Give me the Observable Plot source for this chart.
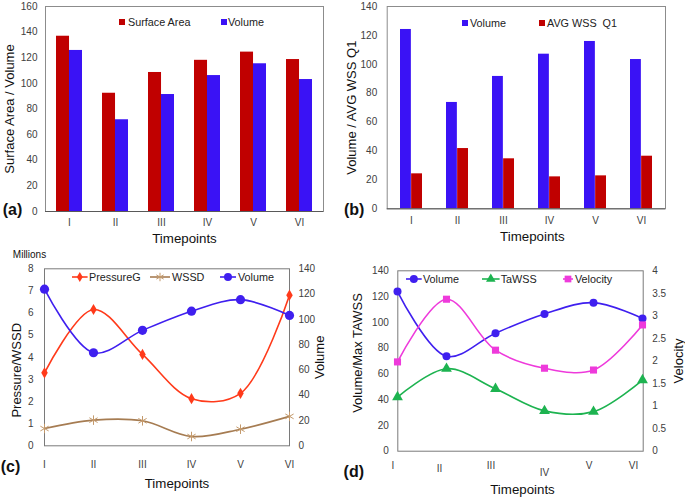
<!DOCTYPE html>
<html><head><meta charset="utf-8">
<script src="https://cdn.jsdelivr.net/npm/d3@7"></script>
<script src="https://cdn.jsdelivr.net/npm/@observablehq/plot@0.6"></script>
<style>
body{margin:0;background:#fff;font-family:"Liberation Sans",Arial,sans-serif;}
#root{position:relative;width:685px;height:499px;overflow:hidden;background:#fff;}
.lg{position:absolute;font-size:10.8px;color:#222;white-space:nowrap;height:14px;line-height:14px;}
.sw{position:absolute;width:6px;height:6px;}
</style></head><body><div id="root"></div>
<script>
// ---------- data ----------
const timepoints = ["I", "II", "III", "IV", "V", "VI"];

// (a) bars
const aSurfaceArea = [136.8, 92.3, 108.5, 118.0, 124.4, 118.6];
const aVolume = [125.7, 71.6, 91.3, 106.1, 115.3, 103.0];
const aTicks = [0, 20, 40, 60, 80, 100, 120, 140, 160];

// (b) bars
const bVolume = [124.1, 73.6, 91.6, 107.0, 115.8, 103.3];
const bAvgWssQ1 = [24.2, 41.7, 34.6, 22.1, 22.8, 36.4];
const bTicks = [0, 20, 40, 60, 80, 100, 120, 140];

// (c) lines (Pressure/WSSD in millions, Volume on right axis)
const cPressureG = [3.30, 6.16, 4.13, 2.13, 2.37, 6.81];
const cWSSD = [0.78, 1.16, 1.13, 0.42, 0.75, 1.33];
const cVolume = [123.9, 73.6, 91.3, 106.5, 115.6, 103.1];
const cLeftTicks = [0, 1, 2, 3, 4, 5, 6, 7, 8];
const cRightTicks = [0, 20, 40, 60, 80, 100, 120, 140];

// (d) lines (Volume & TaWSS left, Velocity right)
const dVolume = [123.9, 73.6, 91.6, 106.5, 115.3, 103.0];
const dTaWSS = [42.0, 64.0, 48.4, 31.3, 30.7, 55.2];
const dVelocity = [1.98, 3.37, 2.24, 1.84, 1.80, 2.80];
const dLeftTicks = [0, 20, 40, 60, 80, 100, 120, 140];
const dRightTicks = [0, 0.5, 1, 1.5, 2, 2.5, 3, 3.5, 4];

// ---------- styles ----------
const RED = "#C00000", BLUE = "#3A12F5";
const C_PRESS = "#FF3A1A", C_WSSD = "#A67C52", C_WSSD_M = "#C49A6C", C_VOL = "#3F1FEF";
const C_TAWSS = "#1DB350", C_VEL = "#EE3ADB";
const FONT = '"Liberation Sans", Arial, sans-serif';
const TICK = "#404040", TITLE = "#111";
const root = document.getElementById("root");
const baseStyle = {fontFamily: FONT, fontSize: "10px", background: "transparent", overflow: "visible", color: TICK};
function place(el, left, top) {
  el.style.position = "absolute"; el.style.left = left + "px"; el.style.top = top + "px";
  el.style.maxWidth = "none";
  root.appendChild(el);
}
const id = d => d;
const T = {text: id, textAnchor: "middle", lineAnchor: "middle", fill: TITLE};

// ---------- (a) ----------
{
  const W = 340, H = 250, ml = 45, mr = 17, mt = 6, mb = 39, pi = 0.44, po = 0.22;
  const bw = (W - ml - mr) / (timepoints.length - pi + 2 * po) * (1 - pi);
  place(Plot.plot({
    width: W, height: H, marginLeft: ml, marginRight: mr, marginTop: mt, marginBottom: mb,
    style: baseStyle,
    x: {domain: timepoints, paddingInner: pi, paddingOuter: po},
    y: {domain: [0, 160]},
    marks: [
      Plot.frame({stroke: "#8c8c8c"}),
      Plot.barY(timepoints, {x: id, y1: 0, y2: (d, i) => aSurfaceArea[i], fill: RED, insetRight: bw / 2}),
      Plot.barY(timepoints, {x: id, y1: 0, y2: (d, i) => aVolume[i], fill: BLUE, insetLeft: bw / 2}),
      Plot.ruleY([0], {stroke: "#595959"}),
      Plot.axisY({ticks: aTicks, tickSize: 0, tickPadding: 8, label: null, fill: TICK}),
      Plot.axisX({tickSize: 0, tickPadding: 7, label: null, fill: TICK}),
      Plot.text(["Surface Area / Volume"], {...T, frameAnchor: "left", rotate: -90, dx: -36, fontSize: 13}),
      Plot.text(["Timepoints"], {...T, frameAnchor: "bottom", dy: 27, fontSize: 13.3}),
      Plot.text(["(a)"], {...T, frameAnchor: "bottom-left", dx: -33, dy: -2, fontSize: 16, fontWeight: "bold"})
    ]
  }), 0, 0);
}

// ---------- (b) ----------
{
  const W = 345, H = 250, ml = 46.7, mr = 20, mt = 6, mb = 41.7, pi = 0.52, po = 0.26;
  const bw = (W - ml - mr) / (timepoints.length - pi + 2 * po) * (1 - pi);
  place(Plot.plot({
    width: W, height: H, marginLeft: ml, marginRight: mr, marginTop: mt, marginBottom: mb,
    style: baseStyle,
    x: {domain: timepoints, paddingInner: pi, paddingOuter: po},
    y: {domain: [0, 140]},
    marks: [
      Plot.frame({stroke: "#8c8c8c"}),
      Plot.barY(timepoints, {x: id, y1: 0, y2: (d, i) => bVolume[i], fill: BLUE, insetRight: bw / 2}),
      Plot.barY(timepoints, {x: id, y1: 0, y2: (d, i) => bAvgWssQ1[i], fill: RED, insetLeft: bw / 2}),
      Plot.ruleY([0], {stroke: "#595959"}),
      Plot.axisY({ticks: bTicks, tickSize: 0, tickPadding: 10, label: null, fill: TICK}),
      Plot.axisX({tickSize: 0, tickPadding: 8, label: null, fill: TICK}),
      Plot.text(["Volume / AVG WSS Q1"], {...T, frameAnchor: "left", rotate: -90, dx: -35, fontSize: 13}),
      Plot.text(["Timepoints"], {...T, frameAnchor: "bottom", dx: 6, dy: 28, fontSize: 13.3}),
      Plot.text(["(b)"], {...T, frameAnchor: "bottom-left", dx: -33, dy: 1, fontSize: 16, fontWeight: "bold"})
    ]
  }), 340, 0);
}

// ---------- (c) ----------
{
  const W = 340, H = 249, ml = 44, mr = 51, mt = 18.3, mb = 53.7;
  const common = {width: W, height: H, marginLeft: ml, marginRight: mr, marginTop: mt, marginBottom: mb,
    style: baseStyle};
  place(Plot.plot({
    ...common,
    x: {type: "point", domain: timepoints, padding: 0},
    y: {domain: [0, 8]},
    marks: [
      Plot.frame({stroke: "#7a7a7a"}),
      Plot.line(timepoints, {x: id, y: (d, i) => cPressureG[i], stroke: C_PRESS, strokeWidth: 1.6, curve: "catmull-rom"}),
      Plot.dot(timepoints, {x: id, y: (d, i) => cPressureG[i], symbol: "diamond", r: 3.4, fill: C_PRESS}),
      Plot.line(timepoints, {x: id, y: (d, i) => cWSSD[i], stroke: C_WSSD, strokeWidth: 1.6, curve: "catmull-rom"}),
      Plot.dot(timepoints, {x: id, y: (d, i) => cWSSD[i], symbol: "asterisk", r: 4.5, stroke: C_WSSD_M, strokeWidth: 1}),
      Plot.axisY({ticks: cLeftTicks, tickSize: 0, tickPadding: 11, label: null, fill: TICK}),
      Plot.axisX({tickSize: 0, tickPadding: 15, label: null, fill: TICK}),
      Plot.text(["Pressure/WSSD"], {...T, frameAnchor: "left", rotate: -90, dx: -28, dy: 13, fontSize: 13}),
      Plot.text(["Timepoints"], {...T, frameAnchor: "bottom", dx: 10, dy: 38, fontSize: 13.3}),
      Plot.text(["Millions"], {...T, frameAnchor: "top-left", dx: -15, dy: -14, fontSize: 10}),
      Plot.text(["(c)"], {...T, frameAnchor: "bottom-left", dx: -34, dy: 21, fontSize: 16, fontWeight: "bold"})
    ]
  }), 0, 250);
  place(Plot.plot({
    ...common,
    x: {type: "point", domain: timepoints, padding: 0, axis: null},
    y: {domain: [0, 140]},
    marks: [
      Plot.line(timepoints, {x: id, y: (d, i) => cVolume[i], stroke: C_VOL, strokeWidth: 1.6, curve: "catmull-rom"}),
      Plot.dot(timepoints, {x: id, y: (d, i) => cVolume[i], r: 4.6, fill: C_VOL}),
      Plot.axisY({anchor: "right", ticks: cRightTicks, tickSize: 0, tickPadding: 9, label: null, fill: TICK}),
      Plot.text(["Volume"], {...T, frameAnchor: "right", rotate: -90, dx: 30, fontSize: 13})
    ]
  }), 0, 250);
}

// ---------- (d) ----------
{
  const W = 345, H = 249, ml = 57.3, mr = 42.3, mt = 20.3, mb = 48.3;
  const common = {width: W, height: H, marginLeft: ml, marginRight: mr, marginTop: mt, marginBottom: mb,
    style: baseStyle};
  place(Plot.plot({
    ...common,
    x: {type: "point", domain: timepoints, padding: 0},
    y: {domain: [0, 140]},
    marks: [
      Plot.frame({stroke: "#7a7a7a"}),
      Plot.line(timepoints, {x: id, y: (d, i) => dTaWSS[i], stroke: C_TAWSS, strokeWidth: 1.6, curve: "catmull-rom"}),
      Plot.dot(timepoints, {x: id, y: (d, i) => dTaWSS[i], symbol: "triangle", r: 4, fill: C_TAWSS}),
      Plot.line(timepoints, {x: id, y: (d, i) => dVolume[i], stroke: C_VOL, strokeWidth: 1.6, curve: "catmull-rom"}),
      Plot.dot(timepoints, {x: id, y: (d, i) => dVolume[i], r: 4, fill: C_VOL}),
      Plot.axisY({ticks: dLeftTicks, tickSize: 0, tickPadding: 9, label: null, fill: TICK}),
      Plot.axisX({ticks: ["I", "III", "V"], tickSize: 0, tickPadding: 11, dx: -4.5, label: null, fill: TICK}),
      Plot.axisX({ticks: ["II"], tickSize: 0, tickPadding: 14, dx: -7, label: null, fill: TICK}),
      Plot.axisX({ticks: ["IV"], tickSize: 0, tickPadding: 18, label: null, fill: TICK}),
      Plot.axisX({ticks: ["VI"], tickSize: 0, tickPadding: 11, dx: -9, label: null, fill: TICK}),
      Plot.text(["Volume/Max TAWSS"], {...T, frameAnchor: "left", rotate: -90, dx: -40, dy: -8, fontSize: 13}),
      Plot.text(["Timepoints"], {...T, frameAnchor: "bottom", dx: 2, dy: 39, fontSize: 13.3}),
      Plot.text(["(d)"], {...T, frameAnchor: "bottom-left", dx: -44, dy: 21, fontSize: 16, fontWeight: "bold"})
    ]
  }), 340, 250);
  place(Plot.plot({
    ...common,
    x: {type: "point", domain: timepoints, padding: 0, axis: null},
    y: {domain: [0, 4]},
    marks: [
      Plot.line(timepoints, {x: id, y: (d, i) => dVelocity[i], stroke: C_VEL, strokeWidth: 1.6, curve: "catmull-rom"}),
      Plot.dot(timepoints, {x: id, y: (d, i) => dVelocity[i], symbol: "square", r: 4, fill: C_VEL}),
      Plot.axisY({anchor: "right", ticks: dRightTicks, tickFormat: d => String(d), tickSize: 0, tickPadding: 9, label: null, fill: TICK}),
      Plot.text(["Velocity"], {...T, frameAnchor: "right", rotate: -90, dx: 35.5, fontSize: 13})
    ]
  }), 340, 250);
}

// ---------- legends ----------
function squareItem(sx, yc, color, label, tx) {
  const s = document.createElement("div");
  s.className = "sw"; s.style.left = sx + "px"; s.style.top = (yc - 3) + "px"; s.style.background = color;
  root.appendChild(s);
  const t = document.createElement("div");
  t.className = "lg"; t.style.left = tx + "px"; t.style.top = (yc - 7) + "px"; t.textContent = label;
  root.appendChild(t);
}
squareItem(119, 22, RED, "Surface Area", 128);
squareItem(221, 22, BLUE, "Volume", 228);
squareItem(461.5, 22.7, BLUE, "Volume", 470);
squareItem(539, 22.7, RED, "AVG WSS\u00a0 Q1", 547);

const NS = "http://www.w3.org/2000/svg";
function lineItem(x1, x2, yc, color, markerColor, symbol, label, tx) {
  const w = x2 - x1;
  const svg = document.createElementNS(NS, "svg");
  svg.setAttribute("width", w + 8); svg.setAttribute("height", 12);
  svg.style.position = "absolute"; svg.style.left = (x1 - 4) + "px"; svg.style.top = (yc - 6) + "px";
  svg.style.overflow = "visible";
  const g = document.createElementNS(NS, "g");
  g.setAttribute("transform", "translate(4,6)");
  const ln = document.createElementNS(NS, "line");
  ln.setAttribute("x1", 0); ln.setAttribute("x2", w); ln.setAttribute("y1", 0); ln.setAttribute("y2", 0);
  ln.setAttribute("stroke", color); ln.setAttribute("stroke-width", 1.6);
  g.appendChild(ln);
  const p = document.createElementNS(NS, "path");
  const sym = {circle: d3.symbolCircle, diamond: d3.symbolDiamond, asterisk: d3.symbolAsterisk,
    triangle: d3.symbolTriangle, square: d3.symbolSquare}[symbol];
  const size = {circle: 50, diamond: 30, asterisk: 50, triangle: 40, square: 45}[symbol];
  p.setAttribute("d", d3.symbol(sym, size)());
  p.setAttribute("transform", `translate(${w / 2},0)`);
  if (symbol === "asterisk") { p.setAttribute("fill", "none"); p.setAttribute("stroke", markerColor); }
  else p.setAttribute("fill", markerColor);
  g.appendChild(p);
  svg.appendChild(g);
  root.appendChild(svg);
  const t = document.createElement("div");
  t.className = "lg"; t.style.left = tx + "px"; t.style.top = (yc - 7) + "px"; t.textContent = label;
  root.appendChild(t);
}
lineItem(71.7, 87.3, 277, C_PRESS, C_PRESS, "diamond", "PressureG", 89);
lineItem(150, 170, 277, C_WSSD, C_WSSD_M, "asterisk", "WSSD", 172);
lineItem(220, 236, 277, C_VOL, C_VOL, "circle", "Volume", 238);
lineItem(406, 421.7, 278.7, C_VOL, C_VOL, "circle", "Volume", 423);
lineItem(481.7, 499.3, 278.7, C_TAWSS, C_TAWSS, "triangle", "TaWSS", 500.7);
lineItem(563.3, 573.3, 278.7, C_VEL, C_VEL, "square", "Velocity", 575);
</script></body></html>
